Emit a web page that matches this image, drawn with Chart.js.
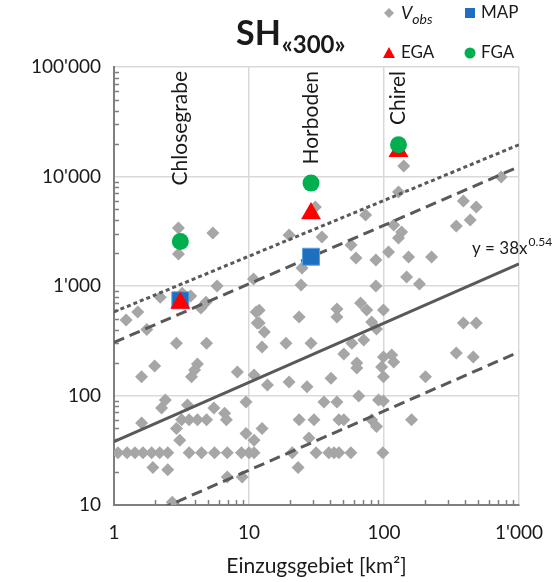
<!DOCTYPE html>
<html>
<head>
<meta charset="utf-8">
<script src="https://cdn.jsdelivr.net/npm/chart.js@4"></script>
<style>
    html, body { margin: 0; padding: 0; background: #fff; }
    #wrap { width: 559px; height: 582px; }
</style>
</head>
<body>
<div id="wrap"><canvas id="chart" width="559" height="582"></canvas></div>
<script>
const FONT = 'Lato, "Open Sans", sans-serif';

// axis ticks
const xTickValues = [1, 10, 100, 1000];
const xTickLabels = ['1', '10', '100', "1'000"];
const yTickValues = [10, 100, 1000, 10000, 100000];
const yTickLabels = ['10', '100', "1'000", "10'000", "100'000"];

// observed volumes (V_obs) vs catchment area
const obsArea = [
    3.0, 3.0, 5.4, 10.8, 5.8, 3.7, 2.2, 3.2, 4.8, 4.4,
    1.5, 1.23, 1.75, 11.3, 11.5, 2.9, 4.85, 2.0, 1.6, 4.15,
    3.95, 3.75, 8.2, 10.9, 2.4, 2.25, 3.5, 9.5, 1.6, 5.5,
    6.6, 6.8, 3.17, 3.6, 4.15, 4.85, 2.9, 3.07, 9.5, 10.9,
    1.07, 1.25, 1.43, 1.64, 1.9, 2.18, 2.5, 3.6, 4.45, 5.55,
    6.9, 8.8, 10, 10.9, 1.94, 2.5, 6.9, 8.9, 2.7,
    31, 19.8, 34.7, 73, 57, 62, 87, 108, 24.7, 24.3,
    87, 11.9, 23.5, 44.8, 44.8, 67, 74.5, 99, 81, 88,
    11.9, 13, 18.8, 28.8, 12.5, 57.8, 70.8, 50.4, 62.9, 62.9,
    99, 114, 96, 99, 13.7, 19.8, 26.9, 40.5, 35.9, 44.8,
    65, 91, 99, 23.5, 30.3, 46.3, 50.4, 81, 88, 12.5,
    27.8, 20.9, 31.4, 39, 42.6, 46.3, 56.8, 98, 23.1,
    118, 203, 343, 458, 387, 482, 160,
    140, 128, 737, 387, 482, 343, 435, 135, 128, 152,
    225, 147, 183, 118
];
const obsVolume = [
    3390, 1960, 3050, 1160, 1000, 810, 790, 860, 710, 630,
    580, 490, 400, 580, 460, 300, 300, 186, 148, 194,
    171, 148, 164, 154, 91, 77, 82, 87, 56, 77,
    69, 60, 60, 60, 60, 60, 50, 39, 45, 39,
    30, 30, 30, 30, 30, 30, 30, 30, 30, 30,
    30, 30, 30, 30, 22, 21, 18, 18, 10.6,
    5270, 2920, 2800, 4450, 2370, 1800, 1730, 2040, 1460, 1020,
    1000, 600, 520, 617, 521, 700, 604, 604, 469, 405,
    460, 380, 300, 300, 277, 300, 321, 239, 198, 178,
    225, 234, 182, 148, 125, 133, 120, 144, 87, 87,
    99, 91, 89, 60, 60, 60, 60, 60, 52, 50,
    41, 30, 30, 30, 30, 30, 30, 30, 22,
    202, 148, 244, 225, 459, 459, 60,
    12500, 7220, 9900, 5975, 5270, 3530, 4000, 3110, 2740, 1840,
    1840, 1210, 1043, 3600
];

// named events
const siteNames = ['Chlosegrabe', 'Horboden', 'Chirel'];
const siteArea = [3.1, 28.8, 128];
const mapVolume = [740, 1850, null];
const egaVolume = [700, 4600, 17000];
const fgaVolume = [2550, 8700, 19500];

// fit line y = 38x^0.54 and envelope lines (end points)
const lineX = [1, 1000];
const fitVolume = [38, 1590];
const upperDashVolume = [305, 12300];
const lowerDashVolume = [6, 250];
const upperDotVolume = [580, 19500];

function toPoints(xs, ys) {
    return xs.map((x, i) => ({ x: x, y: ys[i] })).filter(p => p.y !== null);
}

function lineDataset(ys, dash, width) {
    return {
        type: 'line',
        data: toPoints(lineX, ys),
        borderColor: '#595959',
        borderWidth: width,
        borderDash: dash,
        pointRadius: 0,
        fill: false,
        clip: 0
    };
}

const decorPlugin = {
    id: 'decor',
    beforeDatasetsDraw(chart) {
        const ctx = chart.ctx;
        const xs = chart.scales.x, ys = chart.scales.y;
        const area = chart.chartArea;
        ctx.save();
        ctx.strokeStyle = '#7f7f7f';
        ctx.lineWidth = 1.5;
        ctx.beginPath();
        for (let d = 1; d < 1000; d *= 10) {
            for (let k = 2; k <= 9; k++) {
                const px = Math.round(xs.getPixelForValue(d * k)) + 0.5;
                ctx.moveTo(px, area.bottom);
                ctx.lineTo(px, area.bottom - 5);
            }
        }
        for (let d = 10; d < 100000; d *= 10) {
            for (let k = 2; k <= 9; k++) {
                const py = Math.round(ys.getPixelForValue(d * k)) + 0.5;
                ctx.moveTo(area.left, py);
                ctx.lineTo(area.left + 5, py);
            }
        }
        ctx.stroke();
        ctx.restore();
    },
    afterDraw(chart) {
        const ctx = chart.ctx;
        const xs = chart.scales.x;
        ctx.save();
        ctx.fillStyle = '#1a1a1a';

        // title SH«300»
        ctx.textBaseline = 'alphabetic';
        ctx.textAlign = 'left';
        ctx.font = 'bold 34px ' + FONT;
        ctx.fillText('SH', 236, 45);
        const w = ctx.measureText('SH').width;
        ctx.font = 'bold 24px ' + FONT;
        ctx.fillText('«300»', 236 + w + 1, 53);

        // event names, rotated
        ctx.font = '21px ' + FONT;
        siteNames.forEach((name, i) => {
            const px = xs.getPixelForValue(siteArea[i]);
            ctx.save();
            ctx.translate(px, 71);
            ctx.rotate(-Math.PI / 2);
            ctx.textAlign = 'right';
            ctx.textBaseline = 'middle';
            ctx.fillText(name, 0, 0);
            ctx.restore();
        });

        // equation
        ctx.font = '17px ' + FONT;
        ctx.fillText('y = 38x', 472, 254);
        const we = ctx.measureText('y = 38x').width;
        ctx.font = '12px ' + FONT;
        ctx.fillText('0.54', 472 + we + 1, 246);

        // legend
        ctx.font = '17px ' + FONT;
        ctx.textBaseline = 'middle';
        // V_obs
        ctx.fillStyle = '#a6a6a6';
        ctx.beginPath();
        ctx.moveTo(389, 8); ctx.lineTo(394, 13); ctx.lineTo(389, 18); ctx.lineTo(384, 13);
        ctx.closePath(); ctx.fill();
        ctx.fillStyle = '#1a1a1a';
        ctx.font = 'italic 18px ' + FONT;
        ctx.fillText('V', 401, 13);
        const wv = ctx.measureText('V').width;
        ctx.font = 'italic 14px ' + FONT;
        ctx.fillText('obs', 401 + wv, 19);
        // MAP
        ctx.fillStyle = '#1f6fc0';
        ctx.fillRect(465, 8, 10, 10);
        ctx.fillStyle = '#1a1a1a';
        ctx.font = '17px ' + FONT;
        ctx.fillText('MAP', 481, 13);
        // EGA
        ctx.fillStyle = '#ff0000';
        ctx.beginPath();
        ctx.moveTo(389, 47); ctx.lineTo(395, 58); ctx.lineTo(383, 58);
        ctx.closePath(); ctx.fill();
        ctx.fillStyle = '#1a1a1a';
        ctx.fillText('EGA', 401, 53);
        // FGA
        ctx.fillStyle = '#00b050';
        ctx.beginPath();
        ctx.arc(470, 53, 5.5, 0, Math.PI * 2);
        ctx.fill();
        ctx.fillStyle = '#1a1a1a';
        ctx.fillText('FGA', 481, 53);

        ctx.restore();
    }
};

function makeChart() {
    const ctx = document.getElementById('chart').getContext('2d');
    new Chart(ctx, {
        type: 'scatter',
        data: {
            datasets: [
                {
                    label: 'FGA',
                    data: toPoints(siteArea, fgaVolume),
                    pointStyle: 'circle',
                    pointRadius: 8.5,
                    backgroundColor: '#00b050',
                    borderColor: '#00b050',
                    borderWidth: 0
                },
                {
                    label: 'EGA',
                    data: toPoints(siteArea, egaVolume),
                    pointStyle: 'triangle',
                    pointRadius: 11.5,
                    backgroundColor: '#ff0000',
                    borderColor: '#ff0000',
                    borderWidth: 0
                },
                {
                    label: 'MAP',
                    data: toPoints(siteArea, mapVolume),
                    pointStyle: 'rect',
                    pointRadius: 12,
                    backgroundColor: '#1f6fc0',
                    borderColor: '#5aa0e0',
                    borderWidth: 1
                },
                lineDataset(fitVolume, [], 3),
                lineDataset(upperDotVolume, [4, 3], 3),
                lineDataset(upperDashVolume, [11, 6], 3),
                lineDataset(lowerDashVolume, [11, 6], 3),
                {
                    label: 'Vobs',
                    data: toPoints(obsArea, obsVolume),
                    pointStyle: 'rectRot',
                    pointRadius: 6.5,
                    backgroundColor: '#a6a6a6',
                    borderWidth: 0
                }
            ]
        },
        options: {
            responsive: false,
            animation: false,
            events: [],
            layout: { padding: { top: 67, right: 38, bottom: 0, left: 0 } },
            plugins: {
                legend: { display: false },
                tooltip: { enabled: false }
            },
            scales: {
                x: {
                    type: 'logarithmic',
                    min: 1,
                    max: 1000,
                    afterBuildTicks: s => { s.ticks = xTickValues.map(v => ({ value: v })); },
                    afterFit: s => { s.height = 77; },
                    grid: { color: '#d9d9d9', lineWidth: 1.5, drawTicks: false },
                    border: { display: true, color: '#7f7f7f', width: 2 },
                    ticks: {
                        autoSkip: false,
                        maxRotation: 0,
                        padding: 16,
                        color: '#1a1a1a',
                        font: { family: FONT, size: 19 },
                        callback: (v, i) => xTickLabels[i]
                    },
                    title: {
                        display: true,
                        text: 'Einzugsgebiet [km²]',
                        color: '#1a1a1a',
                        font: { family: FONT, size: 21 },
                        padding: { top: 0, bottom: 3 }
                    }
                },
                y: {
                    type: 'logarithmic',
                    min: 10,
                    max: 100000,
                    afterBuildTicks: s => { s.ticks = yTickValues.map(v => ({ value: v })); },
                    afterFit: s => { s.width = 114; },
                    grid: { color: '#d9d9d9', lineWidth: 1.5, drawTicks: false },
                    border: { display: true, color: '#7f7f7f', width: 2 },
                    ticks: {
                        autoSkip: false,
                        padding: 13,
                        color: '#1a1a1a',
                        font: { family: FONT, size: 19 },
                        callback: (v, i) => yTickLabels[i]
                    }
                }
            }
        },
        plugins: [decorPlugin]
    });
}

Promise.all([
    document.fonts.load('19px Lato'),
    document.fonts.load('bold 30px Lato'),
    document.fonts.load('italic 18px Lato')
]).then(makeChart, makeChart);
</script>
</body>
</html>
